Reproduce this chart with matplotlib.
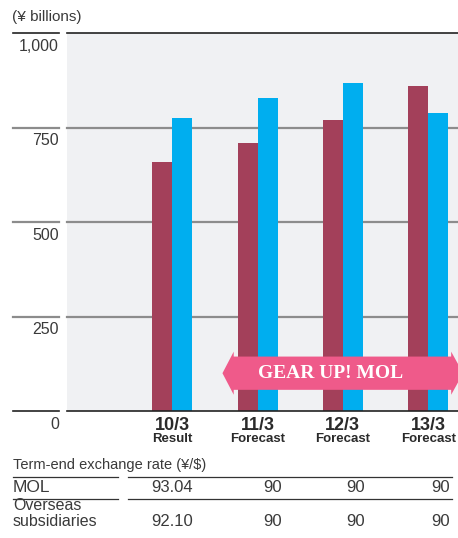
import matplotlib
matplotlib.use("Agg")
import matplotlib.pyplot as plt
import matplotlib.transforms as mtransforms
from matplotlib.patches import Polygon
import numpy as np

# ---- data ----
periods = ["10/3", "11/3", "12/3", "13/3"]
period_notes = ["Result", "Forecast", "Forecast", "Forecast"]
series_a = [659, 709, 770, 860]   # dark red bars
series_b = [775, 828, 868, 788]   # blue bars
y_ticks = [0, 250, 500, 750, 1000]
y_tick_labels = ["0", "250", "500", "750", "1,000"]
rate_mol = ["93.04", "90", "90", "90"]
rate_overseas = ["92.10", "90", "90", "90"]

W, H = 458, 538
plt.rcParams['font.family'] = ['Liberation Sans', 'DejaVu Sans']
fig = plt.figure(figsize=(W / 100, H / 100), dpi=100)
fig.patch.set_facecolor("white")

def fx(px):
    return px / W

def fy(py):
    return 1 - py / H

ax = fig.add_axes([fx(67), fy(411), fx(458) - fx(67), fy(33) - fy(411)])
ax.set_facecolor("#F0F1F3")
for s in ax.spines.values():
    s.set_visible(False)
ax.set_xlim(-1.235, 3.35)
ax.set_ylim(0, 1000)
ax.set_xticks([])
ax.set_yticks([])

x = np.arange(len(periods))
bw = 0.235
red = "#A3405A"
blue = "#00AEEF"
ax.bar(x - bw / 2, series_a, width=bw, color=red, zorder=3)
ax.bar(x + bw / 2, series_b, width=bw, color=blue, zorder=3)

# grid lines and left tick segments
blend = mtransforms.blended_transform_factory(ax.transAxes, ax.transData)
text_col = "#3a3a3a"
for v, lab in zip(y_ticks, y_tick_labels):
    if v in (0, 1000):
        col, lw = "#222222", 1.2
    else:
        col, lw = "#8C8C8C", 1.6
    ax.plot([0, 1], [v, v], transform=blend, color=col, lw=lw, zorder=2 if v not in (0,) else 4, clip_on=False)
    ax.plot([-0.138, -0.0205], [v, v], transform=blend, color=col, lw=lw, clip_on=False)
    ax.annotate(lab, xy=(-0.0205, v), xycoords=blend, xytext=(0, -4),
                textcoords="offset points", ha="right", va="top",
                fontsize=11.5, color=text_col)

fig.text(fx(12), fy(17), "(¥ billions)", fontsize=11, color=text_col, va="center", ha="left")

# GEAR UP! MOL arrow
yc, bh, hh = 100, 44, 57
xl_tip, xl_body, xr_body, xr_tip = 0.588, 0.72, 3.27, 3.41
pts = [(xl_tip, yc), (xl_body, yc + hh), (xl_body, yc + bh), (xr_body, yc + bh),
       (xr_body, yc + hh), (xr_tip, yc), (xr_body, yc - hh), (xr_body, yc - bh),
       (xl_body, yc - bh), (xl_body, yc - hh)]
ax.add_patch(Polygon(pts, closed=True, facecolor="#EF5A8A", edgecolor="none", zorder=5))
ax.text(1.86, yc, "GEAR UP! MOL", color="white", fontsize=14,
        fontweight="bold", family=["Liberation Serif", "DejaVu Serif"],
        ha="center", va="center", zorder=6)

# category labels
cblend = mtransforms.blended_transform_factory(ax.transData, fig.transFigure)
for xi, p, n in zip(x, periods, period_notes):
    ax.text(xi, fy(425), p, transform=cblend, ha="center", va="center",
            fontsize=13, fontweight="bold", color="#2a2a2a")
    ax.text(xi, fy(439), n, transform=cblend, ha="center", va="center",
            fontsize=9.5, fontweight="bold", color="#2a2a2a")

# exchange-rate table
fig.text(fx(13), fy(465), "Term-end exchange rate (¥/$)", fontsize=10.5,
         color=text_col, ha="left", va="center")
for yy in (477, 499):
    fig.add_artist(plt.Line2D([fx(13), fx(118)], [fy(yy), fy(yy)], color="#333333", lw=0.9))
    fig.add_artist(plt.Line2D([fx(128), fx(452)], [fy(yy), fy(yy)], color="#333333", lw=0.9))
fig.text(fx(13), fy(488), "MOL", fontsize=12.5, color=text_col, ha="left", va="center")
fig.text(fx(13), fy(506), "Overseas", fontsize=11.5, color=text_col, ha="left", va="center")
fig.text(fx(13), fy(522), "subsidiaries", fontsize=11.5, color=text_col, ha="left", va="center")
right_edges = [193, 282, 365, 450]
for rx, a, b in zip(right_edges, rate_mol, rate_overseas):
    fig.text(fx(rx), fy(488), a, fontsize=12, color=text_col, ha="right", va="center")
    fig.text(fx(rx), fy(522), b, fontsize=12, color=text_col, ha="right", va="center")

fig.savefig("out.png", dpi=100)
